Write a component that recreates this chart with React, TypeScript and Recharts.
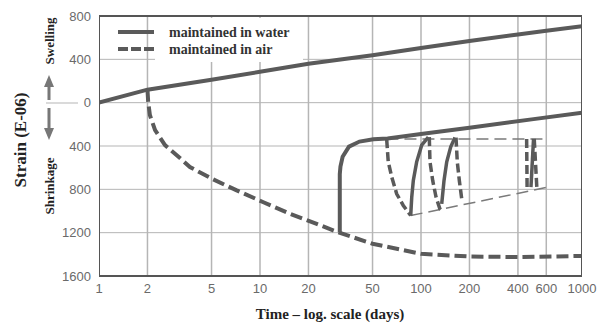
import React from 'react';
import {
  ComposedChart,
  Line,
  XAxis,
  YAxis,
  CartesianGrid,
} from 'recharts';

// axis ticks
const xTicks = [1, 2, 5, 10, 20, 50, 100, 200, 400, 600, 1000];
const yTicks = [-1600, -1200, -800, -400, 0, 400, 800];

// main curves (days, strain in E-06; swelling positive)
const waterDays = [1, 2, 5, 10, 20, 50, 100, 200, 400, 600, 1000];
const waterStrain = [0, 120, 212, 285, 360, 438, 505, 570, 630, 663, 705];

const airDays = [2, 2.02, 2.07, 2.23, 2.57, 3.04, 3.67, 5.01, 7.17, 10.5, 15.4, 22.5, 30.6, 50, 100, 200, 400, 1000];
const airStrain = [120, 10, -114, -253, -392, -485, -594, -701, -810, -919, -1026, -1119, -1197, -1302, -1395, -1420, -1425, -1415];

// re-wetted after ~30 days in air
const rewetDays = [31.3, 31.3, 31.6, 32.6, 35.7, 41.5, 50.6, 62, 100, 200, 500, 1000];
const rewetStrain = [-1197, -660, -590, -499, -406, -359, -338, -330, -290, -232, -152, -93];

// wetting / drying cycles
const dry1: [number, number][] = [[61.2, -336], [62.6, -546], [65.8, -687], [70.6, -841], [77.6, -949], [86.3, -1042]];
const wet1: [number, number][] = [[86.3, -1042], [87.6, -872], [89.6, -718], [94, -546], [101, -392], [111, -318]];
const dry2: [number, number][] = [[112.6, -318], [113.7, -546], [118.2, -718], [124, -872], [131, -980], [132.5, -989]];
const wet2: [number, number][] = [[134.5, -934], [139, -718], [144.5, -546], [153, -408], [162.6, -322]];
const dry3: [number, number][] = [[165, -322], [168, -546], [173, -718], [179, -887], [181.5, -903]];
const dry4: [number, number][] = [[453, -335], [456, -780]];
const wet4: [number, number][] = [[482, -780], [500, -335]];
const dry5: [number, number][] = [[505, -335], [524, -780]];

// thin envelope guides
const upperGuide: [number, number][] = [[61, -336], [604, -336]];
const lowerGuide: [number, number][] = [[86.3, -1042], [604, -782]];

const toRows = (days: number[], vals: number[]) => days.map((d, i) => ({ d, v: vals[i] }));
const pairs = (pts: [number, number][]) => pts.map(([d, v]) => ({ d, v }));

// vertical grid as one zig-zag path; its horizontal runs sit under the frame
const vGrid = xTicks.slice(1, -1).flatMap((t, i) =>
  i % 2 === 0 ? [{ d: t, v: -1600 }, { d: t, v: 800 }] : [{ d: t, v: 800 }, { d: t, v: -1600 }]
);
const frame = pairs([[1, -1600], [1, 800], [1000, 800], [1000, -1600], [1, -1600]]);

const LINE = '#5a5a5a';
const GRID = '#b5b5b5';
const TICK = { fill: '#6a6a6a', fontSize: 13, fontFamily: '"Liberation Sans", Arial, sans-serif' };

function LegendBox() {
  return (
    <div style={{ position: 'absolute', left: 118, top: 24, width: 190, height: 36 }}>
      <div style={{ position: 'absolute', left: 37, top: -6, width: 148, height: 44, background: '#fff' }} />
      <svg style={{ position: 'absolute', left: 0, top: 0 }} width={36} height={36}>
        <line x1={0} y1={8} x2={36} y2={8} stroke={LINE} strokeWidth={4} />
        <line x1={0} y1={25} x2={36} y2={25} stroke={LINE} strokeWidth={4} strokeDasharray="10 3" />
      </svg>
      <div
        style={{
          position: 'absolute',
          left: 51,
          top: 0,
          fontFamily: '"Liberation Serif", serif',
          fontWeight: 'bold',
          fontSize: 14,
          lineHeight: '17px',
          color: '#333',
          whiteSpace: 'nowrap',
        }}
      >
        <div>maintained in water</div>
        <div>maintained in air</div>
      </div>
    </div>
  );
}

export default function App() {
  const thick = { dot: false, activeDot: false, isAnimationActive: false, type: 'linear' as const, stroke: LINE };
  return (
    <div style={{ position: 'absolute', left: 0, top: 0, width: 600, height: 324, background: '#fff' }}>
      <ComposedChart width={600} height={324} margin={{ top: 16, right: 18, bottom: 18, left: 39 }}>
        <CartesianGrid stroke={GRID} strokeWidth={1} vertical={false} />
        <XAxis
          type="number"
          dataKey="d"
          scale="log"
          domain={[1, 1000]}
          ticks={xTicks}
          allowDataOverflow
          axisLine={false}
          tickLine={false}
          height={30}
          tick={TICK}
          interval={0}
        />
        <YAxis
          type="number"
          dataKey="v"
          domain={[-1600, 800]}
          ticks={yTicks}
          axisLine={false}
          tickLine={false}
          width={60}
          tick={TICK}
          interval={0}
          tickFormatter={(v: number) => String(Math.abs(v))}
        />

        <Line data={vGrid} dataKey="v" stroke={GRID} strokeWidth={1.5} dot={false} isAnimationActive={false} />

        <Line {...thick} data={pairs(upperGuide)} dataKey="v" strokeWidth={1.5} stroke="#7a7a7a" strokeDasharray="12 6" />
        <Line {...thick} data={pairs(lowerGuide)} dataKey="v" strokeWidth={1.5} stroke="#7a7a7a" strokeDasharray="12 6" />

        <Line {...thick} data={toRows(waterDays, waterStrain)} dataKey="v" strokeWidth={4} name="maintained in water" />
        <Line {...thick} data={toRows(airDays, airStrain)} dataKey="v" strokeWidth={4} strokeDasharray="12 5" name="maintained in air" />
        <Line {...thick} data={toRows(rewetDays, rewetStrain)} dataKey="v" strokeWidth={4} />

        <Line {...thick} data={pairs(dry1)} dataKey="v" strokeWidth={3.5} strokeDasharray="9 4" />
        <Line {...thick} data={pairs(wet1)} dataKey="v" strokeWidth={3.5} />
        <Line {...thick} data={pairs(dry2)} dataKey="v" strokeWidth={3.5} strokeDasharray="9 4" />
        <Line {...thick} data={pairs(wet2)} dataKey="v" strokeWidth={3.5} />
        <Line {...thick} data={pairs(dry3)} dataKey="v" strokeWidth={3.5} strokeDasharray="9 4" />
        <Line {...thick} data={pairs(dry4)} dataKey="v" strokeWidth={3.5} strokeDasharray="9 4" />
        <Line {...thick} data={pairs(wet4)} dataKey="v" strokeWidth={3.5} />
        <Line {...thick} data={pairs(dry5)} dataKey="v" strokeWidth={3.5} strokeDasharray="9 4" />

        <Line {...thick} data={frame} dataKey="v" stroke="#555" strokeWidth={2} />
      </ComposedChart>

      <LegendBox />

      <svg
        width={600}
        height={324}
        style={{ position: 'absolute', left: 0, top: 0, pointerEvents: 'none' }}
      >
        <line x1={46} y1={103} x2={78} y2={103} stroke={GRID} strokeWidth={1} />
        {/* swelling arrow */}
        <rect x={47.5} y={85} width={3} height={15} fill="#777" />
        <polygon points="49,75 44,87 54,87" fill="#777" />
        {/* shrinkage arrow */}
        <rect x={47.5} y={108} width={3} height={21} fill="#777" />
        <polygon points="44,128 54,128 49,140" fill="#777" />
        <g fontFamily='"Liberation Serif", serif' fontWeight="bold" fill="#222">
          <text x={49} y={41} fontSize={13} textAnchor="middle" dominantBaseline="central" transform="rotate(-90 49 41)">
            Swelling
          </text>
          <text x={49} y={186} fontSize={13} textAnchor="middle" dominantBaseline="central" transform="rotate(-90 49 186)">
            Shrinkage
          </text>
          <text x={20} y={140} fontSize={17} textAnchor="middle" dominantBaseline="central" transform="rotate(-90 20 140)">
            Strain (E-06)
          </text>
          <text x={330} y={314} fontSize={15} textAnchor="middle" dominantBaseline="central">
            Time – log. scale (days)
          </text>
        </g>
      </svg>
    </div>
  );
}
